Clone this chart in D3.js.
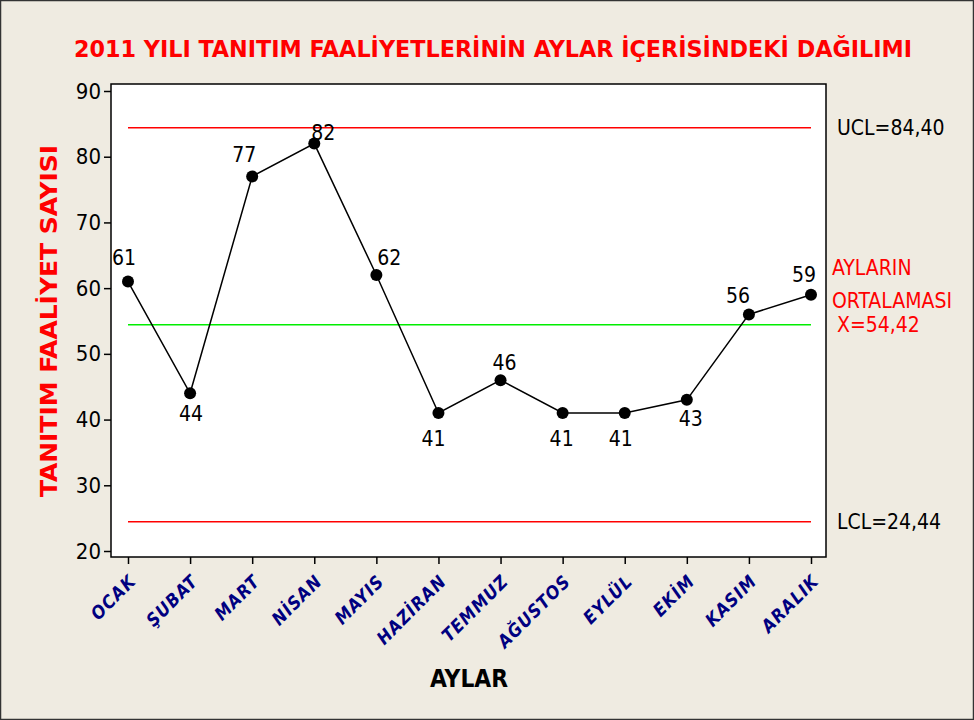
<!DOCTYPE html>
<html><head><meta charset="utf-8">
<script src="https://cdn.jsdelivr.net/npm/d3@7"></script>
<style>body{margin:0;background:#fff}svg{display:block}</style>
</head><body>
<script>
const months = ["OCAK","ŞUBAT","MART","NİSAN","MAYIS","HAZİRAN","TEMMUZ","AĞUSTOS","EYLÜL","EKİM","KASIM","ARALIK"];
const values = [61,44,77,82,62,41,46,41,41,43,56,59];
const ucl = 84.40, mean = 54.42, lcl = 24.44;
const yTicks = [20,30,40,50,60,70,80,90];
// label placement relative to point (dx, dy)
const labelOffsets = [[-4,-17],[1,28],[-8,-14],[9,-4],[13,-10],[-5,33],[4,-10],[-1,33],[-4,33],[4,26],[-11,-11],[-7,-13]];

const W=974,H=720;
const svg=d3.select("body").append("svg").attr("width",W).attr("height",H);
svg.append("rect").attr("x",0.5).attr("y",0.5).attr("width",W-1).attr("height",H-1)
  .attr("fill","#efebe1").attr("stroke","#333").attr("stroke-width",1.5);

const font="'DejaVu Sans Condensed','DejaVu Sans',sans-serif";
const frame={l:111,r:826,t:84,b:557};
svg.append("rect").attr("x",frame.l).attr("y",frame.t).attr("width",frame.r-frame.l).attr("height",frame.b-frame.t)
  .attr("fill","#fff").attr("stroke","#000").attr("stroke-width",1.5);

const x=d3.scalePoint().domain(months).range([128,811]);
const y=d3.scaleLinear().domain([20,90]).range([551,91]);

// y axis
const yAxis=svg.append("g").attr("transform",`translate(${frame.l},0)`)
  .call(d3.axisLeft(y).tickValues(yTicks).tickSize(7).tickPadding(3));
yAxis.select(".domain").remove();
yAxis.selectAll("line").attr("stroke","#000").attr("stroke-width",1.5);
yAxis.selectAll("text").attr("font-family",font).attr("font-size",22).attr("fill","#000");

// x axis
const xAxis=svg.append("g").attr("transform",`translate(0,${frame.b})`)
  .call(d3.axisBottom(x).tickSize(7));
xAxis.select(".domain").remove();
xAxis.selectAll("line").attr("stroke","#000").attr("stroke-width",1.5);
xAxis.selectAll("text").attr("font-family",font).attr("font-size",18).attr("font-weight","bold")
  .attr("font-style","italic").attr("fill","#000080").attr("text-anchor","end")
  .attr("letter-spacing",1)
  .attr("transform","translate(4,21) rotate(-45)").attr("dy","0.35em").attr("y",0);

// control lines
const lines=[[ucl,"#ff0000"],[mean,"#00ee00"],[lcl,"#ff0000"]];
svg.selectAll("line.ctrl").data(lines).enter().append("line").attr("class","ctrl")
  .attr("x1",x(months[0])).attr("x2",x(months[months.length-1]))
  .attr("y1",d=>y(d[0])).attr("y2",d=>y(d[0])).attr("stroke",d=>d[1]).attr("stroke-width",1.5);

// series line
const pts=months.map((m,i)=>[x(m),y(values[i])]);
svg.append("path").attr("d",d3.line()(pts)).attr("fill","none").attr("stroke","#000").attr("stroke-width",1.5);
svg.selectAll("circle.pt").data(pts).enter().append("circle").attr("class","pt")
  .attr("cx",d=>d[0]).attr("cy",d=>d[1]).attr("r",6).attr("fill","#000");
svg.selectAll("text.val").data(values).enter().append("text").attr("class","val")
  .attr("x",(d,i)=>x(months[i])+labelOffsets[i][0]).attr("y",(d,i)=>y(d)+labelOffsets[i][1])
  .attr("text-anchor","middle").attr("font-family",font).attr("font-size",21).text(d=>d);

// right labels
const rl=svg.append("g").attr("font-family",font).attr("font-size",21);
rl.append("text").attr("x",837).attr("y",y(ucl)+7).text("UCL="+d3.format(".2f")(ucl).replace(".",","));
rl.append("text").attr("x",837).attr("y",y(lcl)+7).text("LCL="+d3.format(".2f")(lcl).replace(".",","));
rl.append("text").attr("x",832).attr("y",275).attr("fill","#ff0000").text("AYLARIN");
rl.append("text").attr("x",832).attr("y",308).attr("fill","#ff0000").text("ORTALAMASI");
rl.append("text").attr("x",837).attr("y",332).attr("fill","#ff0000").text("X="+d3.format(".2f")(mean).replace(".",","));

// titles
svg.append("text").attr("x",493).attr("y",57).attr("text-anchor","middle").attr("font-family",font)
  .attr("font-weight","bold").attr("font-size",23).attr("fill","#ff0000")
  .attr("textLength",838).attr("lengthAdjust","spacingAndGlyphs")
  .text("2011 YILI TANITIM FAALİYETLERİNİN AYLAR İÇERİSİNDEKİ DAĞILIMI");
svg.append("text").attr("transform","translate(57,321) rotate(-90)").attr("text-anchor","middle")
  .attr("font-family",font).attr("font-weight","bold").attr("font-size",23).attr("fill","#ff0000")
  .attr("textLength",352).attr("lengthAdjust","spacingAndGlyphs")
  .text("TANITIM FAALİYET SAYISI");
svg.append("text").attr("x",469).attr("y",687).attr("text-anchor","middle").attr("font-family",font)
  .attr("font-weight","bold").attr("font-size",24).attr("fill","#000")
  .attr("textLength",78).attr("lengthAdjust","spacingAndGlyphs").text("AYLAR");
</script>
</body></html>
